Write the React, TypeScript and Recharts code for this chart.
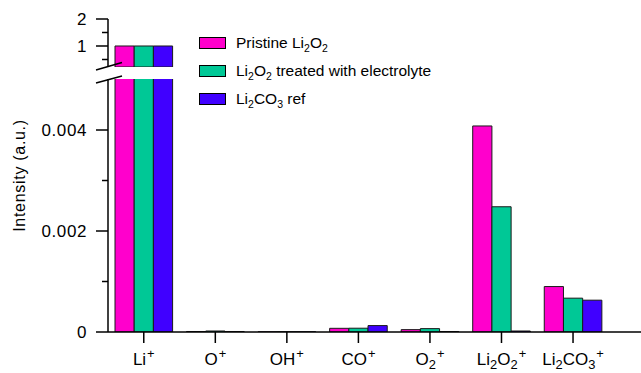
import React from "react";
import { BarChart, Bar, XAxis, YAxis, Legend } from "recharts";

// ions on the x axis, drawn at positions 1..7
const ions = ["Li+", "O+", "OH+", "CO+", "O2+", "Li2O2+", "Li2CO3+"];
const ionPositions = [1, 2, 3, 4, 5, 6, 7];

const seriesNames = ["Pristine Li2O2", "Li2O2 treated with electrolyte", "Li2CO3 ref"];
const pristine = [1, 0.00001, 0.000003, 0.000073, 0.000047, 0.00408, 0.0009];
const treated = [1, 0.00002, 0.000005, 0.000075, 0.000067, 0.00248, 0.00067];
const carbonateRef = [1, 0.00001, 0.000005, 0.000127, 0.00001, 0.00002, 0.00063];

const upperTicks = [0.5, 1, 1.5, 2];
const upperMajor = [1, 2];
const lowerTicks = [0, 0.001, 0.002, 0.003, 0.004];
const lowerMajor = [0, 0.002, 0.004];

const UPPER_MIN = 0.222;
const COLORS = ["#FF00CC", "#00C896", "#4000FF"];
const FONT = "'Liberation Sans', Arial, Helvetica, sans-serif";

const data = ionPositions.map((pos, i) => ({
  pos,
  pristine: pristine[i],
  treated: treated[i],
  carbonateRef: carbonateRef[i],
}));

// the upper panel only shows values above its lower bound
const upperData = data.map((d) => ({
  pos: d.pos,
  pristine: d.pristine >= UPPER_MIN ? d.pristine : null,
  treated: d.treated >= UPPER_MIN ? d.treated : null,
  carbonateRef: d.carbonateRef >= UPPER_MIN ? d.carbonateRef : null,
}));

// split "Li2O2+" into normal / sub / sup pieces
function splitChem(label: string) {
  const parts: { t: string; k: "n" | "sub" | "sup" }[] = [];
  for (let i = 0; i < label.length; i++) {
    const ch = label[i];
    let k: "n" | "sub" | "sup" = "n";
    if (ch === "+") k = "sup";
    else if (/\d/.test(ch) && i > 0 && /[A-Za-z]/.test(label[i - 1])) k = "sub";
    const last = parts[parts.length - 1];
    if (last && last.k === k) last.t += ch;
    else parts.push({ t: ch, k });
  }
  return parts;
}

function SvgChem({ label, size }: { label: string; size: number }) {
  const small = size * 0.76;
  let cur = 0;
  return (
    <>
      {splitChem(label).map((p, i) => {
        const target = p.k === "sub" ? size * 0.25 : p.k === "sup" ? -size * 0.42 : 0;
        const dy = target - cur;
        cur = target;
        return (
          <tspan key={i} dy={dy} dx={p.k === "sup" ? 1 : 0} fontSize={p.k === "n" ? size : small}>
            {p.t}
          </tspan>
        );
      })}
    </>
  );
}

function IonTick(props: any) {
  const { x, y, payload } = props;
  const label = ions[ionPositions.indexOf(payload.value)];
  if (!label) return null;
  return (
    <text x={x} y={y + 20} textAnchor="middle" fontFamily={FONT} fill="#000">
      <SvgChem label={label} size={17} />
    </text>
  );
}

function makeYTick(major: number[]) {
  return (props: any) => {
    const { x, y, payload } = props;
    const isMajor = major.includes(payload.value);
    return (
      <g>
        <line x1={x + 9 + (isMajor ? 0 : 6)} x2={x + 21} y1={y} y2={y} stroke="#000" strokeWidth={1.5} />
        {isMajor && (
          <text
            x={x}
            y={y}
            dy="0.36em"
            textAnchor="end"
            fontFamily={FONT}
            fontSize={17}
            letterSpacing={0.6}
            fill="#000"
          >
            {String(payload.value)}
          </text>
        )}
      </g>
    );
  };
}

function HtmlChem({ label }: { label: string }) {
  return (
    <>
      {splitChem(label).map((p, i) =>
        p.k === "sub" ? (
          <sub key={i} style={{ fontSize: 10.5, lineHeight: 0 }}>{p.t}</sub>
        ) : (
          <span key={i}>{p.t}</span>
        )
      )}
    </>
  );
}

function LegendBox() {
  return (
    <div style={{ fontFamily: FONT, fontSize: 15.5, color: "#000" }}>
      {seriesNames.map((n, i) => (
        <div key={n} style={{ display: "flex", alignItems: "center", height: 28 }}>
          <span
            style={{
              width: 25,
              height: 10,
              background: COLORS[i],
              border: "1px solid #000",
              marginRight: 10,
              flex: "none",
            }}
          />
          <span style={{ whiteSpace: "nowrap" }}>
            <HtmlChem label={n} />
          </span>
        </div>
      ))}
    </div>
  );
}

const xDomain = [0.5, 7.95];

function renderBars() {
  return [
    <Bar key="a" dataKey="pristine" fill={COLORS[0]} stroke="#1a1a1a" strokeWidth={1} barSize={19.2} isAnimationActive={false} />,
    <Bar key="b" dataKey="treated" fill={COLORS[1]} stroke="#1a1a1a" strokeWidth={1} barSize={19.2} isAnimationActive={false} />,
    <Bar key="c" dataKey="carbonateRef" fill={COLORS[2]} stroke="#1a1a1a" strokeWidth={1} barSize={19.2} isAnimationActive={false} />,
  ];
}

export default function App() {
  const axisLine = { stroke: "#000", strokeWidth: 1.5 };
  return (
    <div style={{ position: "relative", width: 641, height: 373, background: "#fff" }}>
      <style>{"body{margin:0}"}</style>

      {/* lower segment: 0 .. 0.005 */}
      <div style={{ position: "absolute", left: 0, top: 0 }}>
        <BarChart width={641} height={373} data={data} barGap={0} margin={{ top: 79, right: 0, bottom: 0, left: 0 }}>
          <XAxis
            type="number"
            dataKey="pos"
            domain={xDomain}
            allowDataOverflow
            ticks={ionPositions}
            interval={0}
            height={41}
            tickSize={11}
            tickMargin={2}
            axisLine={axisLine}
            tickLine={{ stroke: "#000", strokeWidth: 1.5 }}
            tick={<IonTick />}
          />
          <YAxis
            type="number"
            domain={[0, 0.00501]}
            allowDataOverflow
            ticks={lowerTicks}
            interval={0}
            width={108}
            tickSize={12}
            tickMargin={9}
            tickLine={false}
            axisLine={axisLine}
            tick={makeYTick(lowerMajor)}
            label={{
              content: () => (
                <text
                  x={19}
                  y={175.5}
                  transform="rotate(-90 19 175.5)"
                  textAnchor="middle"
                  dominantBaseline="central"
                  fontFamily={FONT}
                  fontSize={16}
                  letterSpacing={0.7}
                  fill="#000"
                >
                  Intensity (a.u.)
                </text>
              ),
            }}
          />
          <Legend
            layout="vertical"
            align="center"
            verticalAlign="middle"
            content={<LegendBox />}
            wrapperStyle={{ left: 199, top: 29, width: 320, height: 84 }}
          />
          {renderBars()}
        </BarChart>
      </div>

      {/* upper segment: ~0.22 .. 2 */}
      <div style={{ position: "absolute", left: 0, top: 0 }}>
        <BarChart width={641} height={67} data={upperData} barGap={0} margin={{ top: 19, right: 0, bottom: 0, left: 0 }}>
          <XAxis
            type="number"
            dataKey="pos"
            orientation="top"
            domain={xDomain}
            allowDataOverflow
            ticks={ionPositions}
            height={0}
            tick={false}
            tickLine={false}
            axisLine={axisLine}
          />
          <YAxis
            type="number"
            domain={[UPPER_MIN, 2]}
            allowDataOverflow
            ticks={upperTicks}
            interval={0}
            width={108}
            tickSize={12}
            tickMargin={9}
            tickLine={false}
            axisLine={axisLine}
            tick={makeYTick(upperMajor)}
          />
          {renderBars()}
        </BarChart>
      </div>

      {/* axis break marks */}
      <svg width={641} height={373} style={{ position: "absolute", left: 0, top: 0, pointerEvents: "none" }}>
        <line x1={96} y1={70} x2={122} y2={62.5} stroke="#000" strokeWidth={1.5} />
        <line x1={96} y1={83} x2={122} y2={76} stroke="#000" strokeWidth={1.5} />
      </svg>
    </div>
  );
}
